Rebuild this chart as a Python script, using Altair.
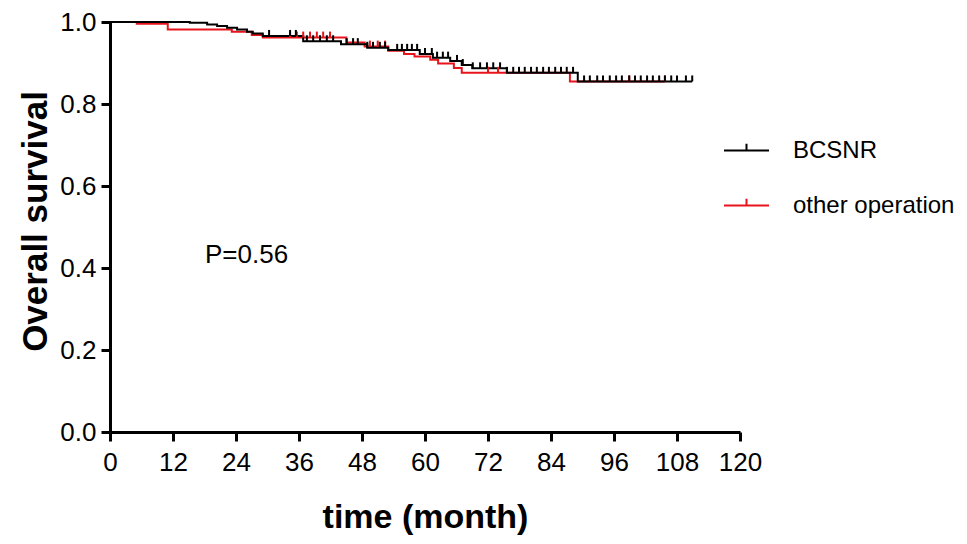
import altair as alt
import pandas as pd

# ---- data (months, survival) ----
groups = ["BCSNR", "other operation"]

bc_time = [0, 15.2, 18.5, 20.4, 22.3, 24.2, 26.1, 27.2, 29.1, 36.8, 44.0, 49.0, 53.0,
           59.0, 61.5, 64.8, 67.0, 69.0, 75.6, 89.1, 110.9]
bc_surv = [1.0, 0.998, 0.994, 0.990, 0.986, 0.982, 0.976, 0.972, 0.966, 0.953, 0.946,
           0.937, 0.932, 0.922, 0.913, 0.905, 0.895, 0.887, 0.876, 0.855, 0.855]

ot_time = [0, 5.1, 11.0, 23.2, 27.0, 29.1, 45.0, 48.5, 53.0, 56.0, 58.0, 61.0, 62.5,
           65.5, 67.0, 87.6, 105.7]
ot_surv = [1.0, 0.996, 0.982, 0.976, 0.968, 0.962, 0.950, 0.940, 0.930, 0.922, 0.916,
           0.908, 0.899, 0.888, 0.876, 0.855, 0.855]

bc_censor = [30.3, 34.3, 35.4, 37.5, 38.7, 40.0, 41.3, 42.5, 45.1, 46.3, 47.2, 49.0,
             50.1, 51.4, 52.4, 54.7, 55.6, 56.6, 57.5, 58.5, 60.0, 61.3, 62.3, 63.4,
             64.4, 66.1, 67.2, 69.1, 70.5, 71.8, 73.0, 74.3, 75.6, 76.8, 77.9, 79.0,
             80.2, 81.3, 82.5, 83.6, 84.8, 85.9, 87.0, 88.2, 90.3, 91.4, 92.8, 93.9,
             95.2, 96.4, 97.5, 98.9, 100.0, 101.1, 102.3, 103.4, 104.6, 105.7, 106.9,
             108.0, 109.7, 110.9]
ot_censor = [34.3, 35.6, 36.8, 38.1, 39.4, 40.6, 41.9, 49.5, 51.0, 52.4, 72.0, 73.9,
             98.9, 105.7]

x_ticks = [0, 12, 24, 36, 48, 60, 72, 84, 96, 108, 120]
y_ticks = [0.0, 0.2, 0.4, 0.6, 0.8, 1.0]

annot_text = ["P=0.56"]
annot_x = [18.1]
annot_y = [0.432]


def surv_at(times, survs, t):
    s = survs[0]
    for ti, si in zip(times, survs):
        if ti <= t:
            s = si
    return s


bc_df = pd.DataFrame({"time": bc_time, "surv": bc_surv, "group": groups[0]})
ot_df = pd.DataFrame({"time": ot_time, "surv": ot_surv, "group": groups[1]})
cens_df = pd.concat([
    pd.DataFrame({"time": ot_censor,
                  "surv": [surv_at(ot_time, ot_surv, t) for t in ot_censor],
                  "group": groups[1]}),
    pd.DataFrame({"time": bc_censor,
                  "surv": [surv_at(bc_time, bc_surv, t) for t in bc_censor],
                  "group": groups[0]}),
])
annot_df = pd.DataFrame({"text": annot_text, "time": annot_x, "surv": annot_y})

FONT = "Liberation Sans"
TOP = 14
PH = 410

color = alt.Color(
    "group:N",
    scale=alt.Scale(domain=groups, range=["#000000", "#e8141c"]),
    legend=alt.Legend(
        title=None, orient="none", legendX=613, legendY=105, padding=0,
        symbolType="M-1,0L1,0M0,0L0,-0.3", symbolSize=2025, symbolStrokeWidth=2,
        symbolOpacity=1,
        labelFont=FONT, labelFontSize=24, labelColor="black", labelOffset=23,
        rowPadding=19, labelLimit=400,
    ),
)

x = alt.X(
    "time:Q",
    scale=alt.Scale(domain=[0, 120], nice=False, zero=False),
    axis=alt.Axis(
        values=x_ticks, title="time (month)", grid=False, labelOverlap=False,
        labelFlush=False, labelPadding=8, titleX=315, titleY=68,
        titleAlign="center", titleBaseline="top", titleFontSize=34,
    ),
)
y = alt.Y(
    "surv:Q",
    scale=alt.Scale(domain=[0, 1], nice=False),
    axis=alt.Axis(
        values=y_ticks, format=".1f", title="Overall survival", grid=False,
        labelPadding=5, titleX=-57, titleY=(432 - 8 - TOP) / 2 - 6, titleAngle=270,
        titleAlign="center", titleBaseline="bottom", titleFontSize=35,
    ),
)

red_line = alt.Chart(ot_df).mark_line(interpolate="step-after", strokeWidth=2).encode(
    x=x, y=y, color=color)
black_line = alt.Chart(bc_df).mark_line(interpolate="step-after", strokeWidth=2).encode(
    x=x, y=y, color=color)
ticks = alt.Chart(cens_df).mark_tick(orient="vertical", size=6, thickness=2,
                                     opacity=1, yOffset=-3).encode(x=x, y=y, color=color)
annot = alt.Chart(annot_df).mark_text(
    align="left", baseline="middle", font=FONT, fontSize=26, color="black"
).encode(x=x, y=y, text="text:N")

chart = alt.layer(red_line, black_line, ticks, annot).properties(
    width=630, height=PH,
    autosize=alt.AutoSizeParams(type="none"),
    padding={"left": 102, "top": TOP, "right": 219, "bottom": 528 - TOP - PH},
    background="white",
).configure_view(stroke=None).configure_axis(
    domainColor="black", domainWidth=3, tickColor="black", tickWidth=3, tickSize=9,
    labelFont=FONT, labelFontSize=26, labelColor="black",
    titleFont=FONT, titleFontWeight="bold", titleColor="black",
)

chart.save("out.html", embed_options={"renderer": "svg", "actions": False})
